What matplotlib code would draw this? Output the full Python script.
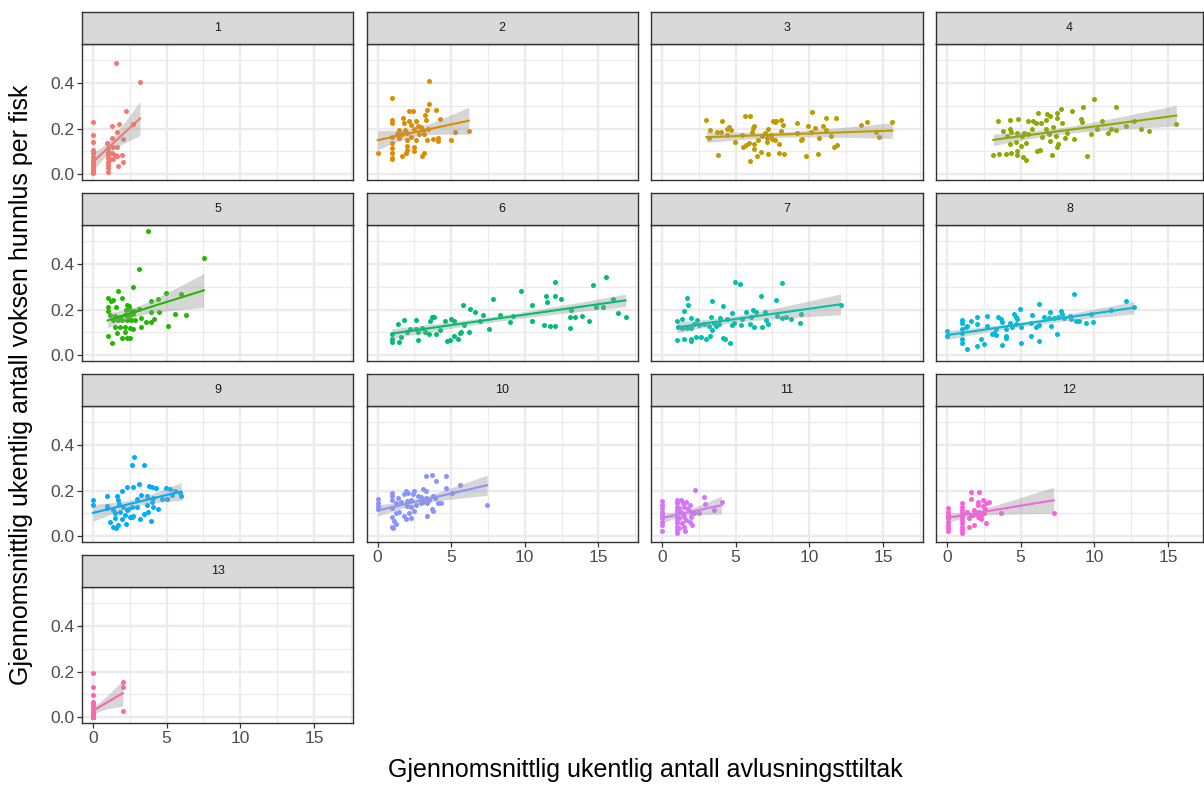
import numpy as np
import matplotlib.pyplot as plt

plt.rcParams['font.family'] = ['Liberation Sans', 'DejaVu Sans']

# (snitt avlusninger per uke, snitt voksne hunnlus per fisk) for hver sone
sone_1 = [(1.56, 0.486), (3.19, 0.404), (2.22, 0.279), (0, 0.228), (1.31, 0.213), (1.74, 0.222),
          (2.74, 0.220), (0, 0.172), (1.63, 0.184), (0, 0.140), (1.31, 0.157), (2.01, 0.152),
          (0, 0.106), (0, 0.091), (0, 0.076), (0, 0.062), (0, 0.047), (0, 0.032), (0, 0.018),
          (0, 0.003), (0, 0.010), (0, 0.025), (0, 0.040), (0.97, 0.135), (1, 0.113), (1, 0.098),
          (1, 0.084), (1, 0.069), (1, 0.054), (1, 0.040), (1, 0.025), (1, 0.010), (1.38, 0.120),
          (1.61, 0.117), (1.27, 0.091), (1.49, 0.084), (1.65, 0.079), (1.38, 0.068), (1.95, 0.084),
          (2.01, 0.053), (1.72, 0.035), (1.15, 0.065)]
sone_2 = [(3.48, 0.408), (0.99, 0.332), (3.48, 0.307), (2.13, 0.278), (2.42, 0.275), (3.35, 0.281),
          (3.98, 0.281), (3.23, 0.260), (0.99, 0.238), (0.99, 0.226), (1.72, 0.245), (2.17, 0.235),
          (2.62, 0.235), (3.30, 0.238), (4.21, 0.241), (1.79, 0.226), (2.29, 0.216), (2.74, 0.211),
          (2.97, 0.206), (1.49, 0.194), (1.88, 0.194), (2.51, 0.197), (3.08, 0.194), (3.42, 0.197),
          (5.27, 0.186), (6.20, 0.190), (1.34, 0.174), (1.65, 0.177), (2.01, 0.180), (2.85, 0.177),
          (3.19, 0.174), (3.76, 0.155), (4.14, 0.158), (4.14, 0.147), (4.98, 0.150), (3.37, 0.150),
          (0.99, 0.161), (1.49, 0.157), (2.01, 0.150), (2.58, 0.150), (2.29, 0.161), (0.99, 0.135),
          (2.01, 0.123), (2.47, 0.120), (0.99, 0.113), (2.01, 0.106), (2.47, 0.101), (0.02, 0.094),
          (1.95, 0.094), (0.99, 0.091), (1.65, 0.081), (3.01, 0.081), (3.19, 0.091), (0.99, 0.069),
          (0.99, 0.065)]
sone_3 = [(10.16, 0.273), (5.61, 0.255), (5.98, 0.255), (11.11, 0.247), (11.83, 0.247), (3.01, 0.237),
          (4.10, 0.234), (7.54, 0.235), (7.76, 0.235), (8.10, 0.238), (7.65, 0.228), (9.14, 0.226),
          (13.89, 0.230), (13.53, 0.216), (15.64, 0.230), (8.24, 0.215), (6.27, 0.210), (6.20, 0.201),
          (9.91, 0.210), (10.93, 0.210), (10.37, 0.203), (4.55, 0.206), (4.39, 0.197), (4.66, 0.194),
          (3.26, 0.192), (3.73, 0.186), (3.98, 0.183), (7.20, 0.197), (8.06, 0.191), (6.09, 0.186),
          (6.97, 0.182), (9.14, 0.182), (10.14, 0.186), (11.11, 0.194), (11.50, 0.168), (14.50, 0.184),
          (4.44, 0.172), (5.45, 0.172), (7.38, 0.172), (6.81, 0.165), (7.15, 0.158), (7.49, 0.156),
          (7.67, 0.150), (3.19, 0.158), (9.42, 0.150), (9.53, 0.156), (10.66, 0.158), (14.71, 0.161),
          (4.96, 0.140), (5.90, 0.135), (5.68, 0.127), (5.50, 0.120), (6.25, 0.132), (6.54, 0.150),
          (7.15, 0.143), (7.94, 0.132), (11.68, 0.120), (11.90, 0.127), (6.27, 0.109), (6.70, 0.097),
          (7.94, 0.094), (8.28, 0.087), (7.17, 0.087), (6.43, 0.079), (3.80, 0.084), (9.80, 0.081),
          (10.59, 0.090), (5.98, 0.059)]
sone_4 = [(9.96, 0.329), (11.49, 0.294), (9.23, 0.294), (7.76, 0.286), (8.51, 0.279), (6.18, 0.270),
          (6.77, 0.264), (6.99, 0.253), (7.49, 0.270), (7.49, 0.248), (3.49, 0.232), (4.28, 0.236),
          (4.84, 0.241), (5.50, 0.235), (5.84, 0.232), (6.02, 0.223), (6.40, 0.223), (6.70, 0.238),
          (7.83, 0.223), (9.12, 0.243), (9.19, 0.230), (10.50, 0.235), (12.72, 0.235), (7.22, 0.208),
          (5.75, 0.199), (3.80, 0.189), (4.28, 0.197), (4.32, 0.185), (4.73, 0.182), (5.23, 0.182),
          (5.50, 0.176), (6.72, 0.197), (6.93, 0.176), (8.17, 0.179), (9.75, 0.176), (10.16, 0.197),
          (10.93, 0.182), (11.11, 0.197), (11.45, 0.194), (12.13, 0.211), (13.15, 0.197), (13.71, 0.191),
          (15.57, 0.221), (4.05, 0.165), (5.07, 0.165), (6.47, 0.161), (7.38, 0.165), (7.99, 0.158),
          (6.99, 0.145), (8.62, 0.152), (4.28, 0.132), (4.66, 0.140), (5.34, 0.135), (5.00, 0.123),
          (7.54, 0.132), (7.49, 0.120), (4.77, 0.100), (4.37, 0.093), (6.31, 0.106), (6.09, 0.100),
          (3.14, 0.082), (3.53, 0.090), (4.03, 0.088), (4.73, 0.082), (5.14, 0.075), (5.39, 0.062),
          (7.15, 0.084), (9.53, 0.079)]
sone_5 = [(3.71, 0.545), (7.52, 0.427), (3.10, 0.379), (2.71, 0.298), (1.72, 0.281), (0.99, 0.250),
          (1.33, 0.242), (1.22, 0.239), (1.99, 0.252), (3.94, 0.236), (4.39, 0.245), (4.96, 0.274),
          (5.95, 0.268), (2.29, 0.220), (2.47, 0.217), (1.56, 0.210), (0.99, 0.210), (0.99, 0.195),
          (2.24, 0.198), (2.51, 0.198), (2.80, 0.195), (3.15, 0.201), (3.94, 0.191), (4.48, 0.188),
          (1.15, 0.176), (1.49, 0.172), (1.83, 0.169), (2.17, 0.175), (2.47, 0.172), (2.74, 0.181),
          (5.57, 0.180), (6.31, 0.175), (3.24, 0.162), (4.14, 0.157), (1.38, 0.155), (1.67, 0.155),
          (1.95, 0.155), (2.29, 0.155), (2.58, 0.155), (2.85, 0.155), (3.58, 0.145), (3.94, 0.144),
          (3.28, 0.125), (1.49, 0.125), (1.83, 0.122), (2.17, 0.125), (2.51, 0.120), (2.74, 0.113),
          (5.11, 0.129), (2.17, 0.103), (1.61, 0.096), (0.99, 0.084), (1.99, 0.075), (2.29, 0.075),
          (2.51, 0.075), (1.31, 0.051)]
sone_6 = [(15.50, 0.341), (12.08, 0.320), (14.62, 0.307), (9.75, 0.280), (11.41, 0.261), (12.06, 0.260),
          (12.47, 0.246), (11.50, 0.235), (7.83, 0.246), (16.00, 0.244), (5.79, 0.219), (10.50, 0.219),
          (6.31, 0.201), (6.65, 0.188), (7.17, 0.177), (8.35, 0.177), (9.21, 0.173), (13.15, 0.198),
          (14.85, 0.213), (15.32, 0.210), (16.36, 0.183), (16.84, 0.166), (13.08, 0.168), (13.44, 0.168),
          (13.87, 0.171), (14.35, 0.151), (6.93, 0.151), (9.01, 0.144), (10.50, 0.151), (11.27, 0.133),
          (11.72, 0.127), (12.08, 0.127), (13.08, 0.118), (7.54, 0.114), (6.20, 0.101), (5.90, 0.130),
          (5.66, 0.102), (5.57, 0.098), (5.16, 0.084), (4.93, 0.066), (4.70, 0.062), (5.45, 0.069),
          (1.40, 0.136), (1.79, 0.154), (2.22, 0.114), (2.63, 0.116), (3.01, 0.121), (2.63, 0.154),
          (3.57, 0.150), (3.71, 0.166), (3.82, 0.169), (4.55, 0.151), (4.96, 0.158), (5.18, 0.151),
          (4.21, 0.110), (3.24, 0.102), (3.49, 0.092), (3.94, 0.092), (2.74, 0.102), (2.74, 0.064),
          (1.61, 0.080), (0.97, 0.092), (0.97, 0.069), (0.97, 0.057), (1.49, 0.057), (1.99, 0.102)]
sone_7 = [(4.98, 0.321), (5.30, 0.311), (8.15, 0.318), (6.72, 0.261), (7.72, 0.242), (1.70, 0.252),
          (1.77, 0.220), (3.39, 0.236), (4.12, 0.214), (1.49, 0.194), (6.18, 0.198), (5.73, 0.188),
          (6.36, 0.187), (4.77, 0.184), (7.02, 0.190), (9.41, 0.180), (12.13, 0.220), (7.78, 0.172),
          (8.17, 0.162), (8.40, 0.165), (8.73, 0.158), (3.33, 0.166), (3.94, 0.162), (4.41, 0.158),
          (1.99, 0.162), (2.40, 0.155), (1.34, 0.158), (1.02, 0.151), (4.89, 0.140), (5.41, 0.158),
          (6.02, 0.169), (7.06, 0.155), (2.17, 0.136), (2.51, 0.131), (2.85, 0.136), (3.19, 0.129),
          (3.53, 0.139), (3.87, 0.136), (1.38, 0.118), (1.72, 0.118), (1.95, 0.118), (1.11, 0.125),
          (4.77, 0.133), (5.39, 0.131), (5.98, 0.136), (6.25, 0.122), (6.81, 0.125), (7.22, 0.136),
          (9.35, 0.139), (3.42, 0.110), (3.64, 0.129), (3.24, 0.085), (2.97, 0.072), (2.63, 0.079),
          (2.33, 0.079), (1.99, 0.069), (1.99, 0.062), (1.52, 0.069), (1.02, 0.066), (4.16, 0.076),
          (4.25, 0.069), (4.62, 0.051)]
sone_8 = [(8.64, 0.269), (12.13, 0.236), (6.22, 0.223), (4.96, 0.202), (4.55, 0.180), (4.71, 0.169),
          (4.78, 0.160), (6.97, 0.191), (7.72, 0.195), (7.79, 0.181), (5.79, 0.176), (6.59, 0.166),
          (6.93, 0.162), (7.26, 0.162), (7.54, 0.169), (7.92, 0.162), (8.33, 0.172), (8.40, 0.157),
          (8.74, 0.151), (8.96, 0.151), (9.46, 0.139), (9.93, 0.147), (11.11, 0.200), (12.69, 0.211),
          (9.75, 0.181), (2.01, 0.169), (2.74, 0.170), (3.49, 0.166), (3.64, 0.157), (3.76, 0.147),
          (1.61, 0.151), (1.04, 0.154), (1.04, 0.139), (1.38, 0.127), (1.27, 0.124), (2.01, 0.136),
          (2.69, 0.127), (3.30, 0.116), (3.08, 0.091), (3.30, 0.087), (3.19, 0.097), (3.98, 0.113),
          (4.28, 0.141), (4.44, 0.124), (4.66, 0.136), (5.00, 0.124), (6.02, 0.124), (6.25, 0.131),
          (5.68, 0.141), (7.08, 0.128), (7.49, 0.091), (5.73, 0.082), (6.25, 0.062), (5.00, 0.055),
          (0.02, 0.107), (0.02, 0.084), (1.04, 0.116), (1.04, 0.097), (1.04, 0.072), (1.04, 0.053),
          (1.38, 0.026), (2.01, 0.039), (2.51, 0.048), (2.29, 0.069), (3.76, 0.044), (3.98, 0.076),
          (3.98, 0.085)]
sone_9 = [(2.78, 0.347), (2.63, 0.313), (3.46, 0.310), (3.15, 0.229), (2.29, 0.217), (2.74, 0.214),
          (3.83, 0.220), (3.99, 0.214), (4.28, 0.210), (4.97, 0.210), (5.24, 0.207), (5.58, 0.200),
          (5.92, 0.191), (5.99, 0.176), (5.35, 0.180), (5.01, 0.162), (4.67, 0.161), (1.95, 0.200),
          (0.97, 0.176), (1.60, 0.176), (0, 0.159), (0, 0.137), (3.24, 0.180), (3.01, 0.161),
          (3.65, 0.176), (3.99, 0.151), (4.10, 0.165), (0.97, 0.132), (0.97, 0.122), (1.38, 0.115),
          (1.72, 0.159), (1.79, 0.143), (2.06, 0.129), (2.29, 0.115), (2.63, 0.129), (2.97, 0.126),
          (3.65, 0.137), (4.10, 0.126), (4.44, 0.118), (1.49, 0.100), (1.83, 0.107), (2.17, 0.093),
          (2.51, 0.085), (2.69, 0.088), (1.15, 0.063), (1.49, 0.078), (1.72, 0.048), (1.33, 0.038),
          (1.56, 0.037), (2.22, 0.053), (2.63, 0.085), (3.20, 0.073), (3.46, 0.095), (3.76, 0.104),
          (3.94, 0.065), (1.95, 0.073), (2.40, 0.117)]
sone_10 = [(3.30, 0.263), (3.71, 0.270), (4.66, 0.263), (3.98, 0.241), (4.66, 0.213), (5.57, 0.223),
           (7.44, 0.135), (5.05, 0.191), (3.08, 0.205), (3.30, 0.200), (3.78, 0.176), (4.14, 0.144),
           (4.32, 0.144), (1.95, 0.200), (2.06, 0.191), (1.79, 0.185), (2.51, 0.196), (2.40, 0.185),
           (2.74, 0.176), (2.97, 0.170), (3.26, 0.166), (3.53, 0.159), (3.87, 0.166), (3.08, 0.151),
           (3.37, 0.144), (3.69, 0.117), (0.99, 0.188), (0.99, 0.174), (0.99, 0.159), (1.38, 0.166),
           (1.61, 0.151), (1.27, 0.144), (0.02, 0.161), (0.02, 0.147), (0.02, 0.132), (0.02, 0.117),
           (2.01, 0.156), (2.29, 0.159), (2.01, 0.132), (2.29, 0.126), (2.63, 0.136), (2.97, 0.144),
           (0.99, 0.122), (1.27, 0.100), (1.49, 0.107), (1.83, 0.088), (2.17, 0.103), (2.51, 0.111),
           (0.99, 0.082), (1.11, 0.068), (1.27, 0.053), (0.99, 0.041), (1.04, 0.034), (1.95, 0.073),
           (2.29, 0.078), (3.37, 0.088), (3.76, 0.112)]
sone_11 = [(2.24, 0.203), (2.84, 0.171), (2.89, 0.141), (4.04, 0.148), (3.51, 0.115),
           (0.03, 0.152), (0.03, 0.137), (0.03, 0.122), (0.03, 0.107), (0.03, 0.093), (0.03, 0.078),
           (0.03, 0.063), (0.03, 0.048), (0.03, 0.023), (0.99, 0.159), (0.99, 0.144), (0.99, 0.129),
           (0.99, 0.115), (0.99, 0.100), (0.99, 0.085), (0.99, 0.070), (0.99, 0.056), (0.99, 0.041),
           (0.99, 0.026), (0.99, 0.015), (1.28, 0.159), (1.40, 0.144), (1.52, 0.129), (1.64, 0.151),
           (1.76, 0.118), (1.28, 0.107), (1.40, 0.097), (1.52, 0.085), (1.64, 0.070), (1.33, 0.058),
           (1.52, 0.041), (1.57, 0.023), (1.88, 0.137), (1.95, 0.107), (2.00, 0.085), (2.05, 0.047),
           (1.88, 0.063), (2.19, 0.100), (2.48, 0.103), (1.16, 0.122), (1.16, 0.078), (1.16, 0.034)]
sone_12 = [(7.24, 0.100), (1.65, 0.195), (2.20, 0.195), (1.65, 0.161), (2.08, 0.151), (2.44, 0.159),
           (2.68, 0.144), (2.85, 0.148), (2.44, 0.132), (2.08, 0.137), (3.64, 0.103), (2.68, 0.058),
           (2.32, 0.073), (2.08, 0.085), (1.79, 0.093), (1.48, 0.041), (1.84, 0.048),
           (0.04, 0.122), (0.04, 0.107), (0.04, 0.093), (0.04, 0.078), (0.04, 0.063), (0.04, 0.048),
           (0.04, 0.034), (0.04, 0.023), (1.0, 0.144), (1.0, 0.129), (1.0, 0.115), (1.0, 0.100),
           (1.0, 0.085), (1.0, 0.070), (1.0, 0.056), (1.0, 0.041), (1.0, 0.026), (1.0, 0.015),
           (1.36, 0.107), (1.48, 0.078), (1.60, 0.093), (1.84, 0.115), (1.96, 0.100), (2.20, 0.107),
           (2.32, 0.088), (2.51, 0.103), (2.56, 0.118)]
sone_13 = [(0, 0.195), (0, 0.134), (0, 0.097), (0, 0.068), (0, 0.057), (0, 0.045), (0, 0.034),
           (0, 0.024), (0, 0.013), (0, 0.004), (0, 0.0), (0, 0.0), (0, 0.0), (0, 0.0), (0, 0.0),
           (0, 0.0), (0, 0.0), (0, 0.0), (0, 0.0), (0, 0.0), (0, 0.002), (0, 0.005), (0, 0.008),
           (0, 0.010), (0, 0.015), (0, 0.018), (2.02, 0.156), (2.02, 0.134), (2.02, 0.025)]

soner = [sone_1, sone_2, sone_3, sone_4, sone_5, sone_6, sone_7, sone_8, sone_9,
         sone_10, sone_11, sone_12, sone_13]
etiketter = [str(i) for i in range(1, 14)]

# ggplot2 hue_pal() for 13 nivåer
farger = ["#F8766D", "#E18A00", "#BE9C00", "#8CAB00", "#24B700", "#00BE70", "#00C1AB",
          "#00BBDA", "#00ACFC", "#8B93FF", "#D575FE", "#F962DD", "#FF65AC"]

x_ticks = [0, 5, 10, 15]
y_ticks = [0.0, 0.2, 0.4]


def lm_band(x, y, n=80):
    # lineær regresjon med 95 % konfidensbånd (som geom_smooth(method = "lm"))
    x = np.asarray(x, float)
    y = np.asarray(y, float)
    b, a = np.polyfit(x, y, 1)
    xs = np.linspace(x.min(), x.max(), n)
    res = y - (a + b * x)
    s = np.sqrt(res @ res / (len(x) - 2))
    sxx = ((x - x.mean()) ** 2).sum()
    se = s * np.sqrt(1 / len(x) + (xs - x.mean()) ** 2 / sxx)
    return xs, a + b * xs, 1.98 * se


W, H = 1204, 785
fig = plt.figure(figsize=(W / 100, H / 100), dpi=100)


def boks(l, t, w, h):
    return [l / W, 1 - (t + h) / H, w / W, h / H]


kol_venstre = [82, 366.5, 651, 936]
kol_bredde = [271.5, 271.5, 271.5, 267]
px_per_x = 14.73
GRAA20 = "#333333"

for i, (pts, lab, col) in enumerate(zip(soner, etiketter, farger)):
    r, c = divmod(i, 4)
    venstre = kol_venstre[c]
    bredde = kol_bredde[c]
    topp = 44 + 181 * r

    ax = fig.add_axes(boks(venstre, topp, bredde, 136))
    xmin = -11 / px_per_x
    ax.set_xlim(xmin, xmin + bredde / px_per_x)
    ax.set_ylim(-0.026, 0.571)

    for v in [2.5, 7.5, 12.5, 17.5]:
        ax.axvline(v, color="#EBEBEB", lw=0.9, zorder=0)
    for v in [0.1, 0.3, 0.5]:
        ax.axhline(v, color="#EBEBEB", lw=0.9, zorder=0)
    for v in x_ticks:
        ax.axvline(v, color="#EBEBEB", lw=1.7, zorder=0)
    for v in y_ticks:
        ax.axhline(v, color="#EBEBEB", lw=1.7, zorder=0)

    x = [p[0] for p in pts]
    y = [p[1] for p in pts]
    ax.scatter(x, y, s=13, color=col, linewidths=0, zorder=2)
    xs, fit, ci = lm_band(x, y)
    ax.fill_between(xs, fit - ci, fit + ci, color="#999999", alpha=0.4, lw=0, zorder=3)
    ax.plot(xs, fit, color=col, lw=1.5, zorder=4)

    for sp in ax.spines.values():
        sp.set_color(GRAA20)
        sp.set_linewidth(1.0)

    ax.set_xticks(x_ticks)
    ax.set_yticks(y_ticks)
    ax.tick_params(length=3.5, width=0.9, color=GRAA20, labelcolor="#4D4D4D",
                   labelsize=12.5, pad=2)
    nederst = (i == 12) or (r == 2 and c > 0)
    if nederst:
        ax.set_xticklabels([str(t) for t in x_ticks])
    else:
        ax.tick_params(axis="x", length=0, labelbottom=False)
    if c == 0:
        ax.set_yticklabels([f"{t:.1f}" for t in y_ticks])
    else:
        ax.tick_params(axis="y", length=0, labelleft=False)

    # stripe med sonenummer
    st = fig.add_axes(boks(venstre, topp - 32, bredde, 32))
    st.set_facecolor("#D9D9D9")
    st.set_xticks([])
    st.set_yticks([])
    for sp in st.spines.values():
        sp.set_color(GRAA20)
        sp.set_linewidth(1.0)
    st.text(0.5, 0.5, lab, ha="center", va="center", fontsize=9, color="#1A1A1A",
            transform=st.transAxes)

fig.text(645 / W, 1 - 770 / H, "Gjennomsnittlig ukentlig antall avlusningsttiltak",
         ha="center", va="center", fontsize=18, color="black")
fig.text(21 / W, 1 - 385 / H, "Gjennomsnittlig ukentlig antall voksen hunnlus per fisk",
         ha="center", va="center", rotation=90, fontsize=18, color="black")

fig.savefig("out.png", dpi=100)
